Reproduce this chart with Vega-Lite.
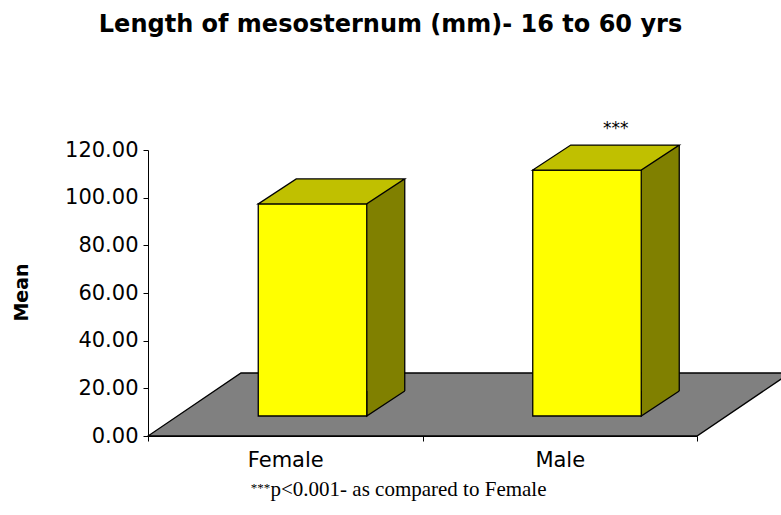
{
  "$schema": "https://vega.github.io/schema/vega-lite/v6.json",
  "autosize": "none",
  "width": 549,
  "height": 286,
  "padding": {"left": 148, "top": 150, "right": 84, "bottom": 79},
  "background": "white",
  "title": {
    "text": "Length of mesosternum (mm)- 16 to 60 yrs",
    "font": "DejaVu Sans",
    "fontSize": 24,
    "fontWeight": "bold",
    "color": "black",
    "anchor": "middle",
    "frame": "group",
    "dx": -32,
    "baseline": "alphabetic",
    "offset": 64
  },
  "data": {
    "values": [
      {"sex": "Female", "mean": 89.0, "sig": ""},
      {"sex": "Male", "mean": 103.2, "sig": "***"}
    ]
  },
  "layer": [
    {
      "transform": [{"aggregate": [{"op": "count", "as": "n"}]}],
      "mark": {
        "type": "point",
        "shape": "M-137.25,0 L411.75,0 L504.75,-63 L-44.25,-63 Z",
        "size": 4,
        "filled": true,
        "fill": "#808080",
        "stroke": "black",
        "strokeWidth": 1.3,
        "opacity": 1
      },
      "encoding": {
        "x": {
          "datum": "Female",
          "type": "nominal",
          "scale": {"domain": ["Female", "Male"], "paddingInner": 0, "paddingOuter": 0},
          "axis": {
            "labelFont": "DejaVu Sans",
            "labelFontSize": 21,
            "labelColor": "black",
            "labelAngle": 0,
            "labelPadding": 8,
            "tickBand": "extent",
            "tickSize": 5,
            "tickColor": "black",
            "domainColor": "black",
            "title": "p<0.001- as compared to Female",
            "titleFont": "Liberation Serif",
            "titleFontSize": 21,
            "titleFontWeight": "normal",
            "titleColor": "black",
            "titleAlign": "left",
            "titleAnchor": "start",
            "titleBaseline": "alphabetic",
            "titleX": 122,
            "titleY": 59
          }
        },
        "y": {
          "datum": 0,
          "type": "quantitative",
          "scale": {"domain": [0, 120], "nice": false, "zero": true},
          "axis": {
            "values": [0, 20, 40, 60, 80, 100, 120],
            "format": ".2f",
            "grid": false,
            "labelFont": "DejaVu Sans",
            "labelFontSize": 21,
            "labelColor": "black",
            "labelPadding": 5,
            "tickSize": 5,
            "tickColor": "black",
            "domainColor": "black",
            "title": "Mean",
            "titleFont": "DejaVu Sans",
            "titleFontSize": 19,
            "titleFontWeight": "bold",
            "titleColor": "black",
            "titleAngle": 270,
            "titleAlign": "center",
            "titleBaseline": "middle",
            "titleX": -127,
            "titleY": 142
          }
        }
      }
    },
    {
      "mark": {"type": "bar", "width": 38, "xOffset": 100.5, "yOffset": -45, "y2Offset": -45, "fill": "#808000", "stroke": null},
      "encoding": {
        "x": {"field": "sex", "type": "nominal"},
        "y": {"field": "mean", "type": "quantitative"},
        "y2": {"datum": 0}
      }
    },
    {
      "mark": {
        "type": "point",
        "shape": "M119.5,-45 L81.5,-20 L81.5,-45",
        "size": 4,
        "filled": true,
        "fill": "#808000",
        "stroke": "black",
        "strokeWidth": 1.3,
        "opacity": 1
      },
      "encoding": {
        "x": {"field": "sex", "type": "nominal"},
        "y": {"datum": 0, "type": "quantitative"}
      }
    },
    {
      "mark": {"type": "rule", "xOffset": 119.5, "yOffset": -45, "y2Offset": -45, "color": "black", "strokeWidth": 1.3},
      "encoding": {
        "x": {"field": "sex", "type": "nominal"},
        "y": {"field": "mean", "type": "quantitative"},
        "y2": {"datum": 0}
      }
    },
    {
      "mark": {"type": "bar", "width": 108.5, "xOffset": 27.25, "yOffset": -20, "y2Offset": -20, "fill": "#FFFF00", "stroke": "black", "strokeWidth": 1.3},
      "encoding": {
        "x": {"field": "sex", "type": "nominal"},
        "y": {"field": "mean", "type": "quantitative"},
        "y2": {"datum": 0}
      }
    },
    {
      "mark": {
        "type": "point",
        "shape": "M-27,-20 L81.5,-20 L119.5,-45 L11,-45 Z",
        "size": 4,
        "filled": true,
        "fill": "#C0C000",
        "stroke": "black",
        "strokeWidth": 1.3,
        "opacity": 1
      },
      "encoding": {
        "x": {"field": "sex", "type": "nominal"},
        "y": {"field": "mean", "type": "quantitative"}
      }
    },
    {
      "mark": {"type": "text", "font": "DejaVu Sans", "fontSize": 17, "color": "black", "dx": 56, "dy": -56, "baseline": "alphabetic", "align": "center"},
      "encoding": {
        "x": {"field": "sex", "type": "nominal"},
        "y": {"field": "mean", "type": "quantitative"},
        "text": {"field": "sig"}
      }
    },
    {
      "transform": [{"aggregate": [{"op": "count", "as": "n"}]}],
      "mark": {"type": "text", "text": "***", "font": "Liberation Serif", "fontSize": 13, "color": "black", "dx": -15, "dy": 56, "baseline": "alphabetic", "align": "right"},
      "encoding": {
        "x": {"datum": "Female", "type": "nominal"},
        "y": {"datum": 0, "type": "quantitative"}
      }
    }
  ],
  "config": {"view": {"stroke": null}}
}
